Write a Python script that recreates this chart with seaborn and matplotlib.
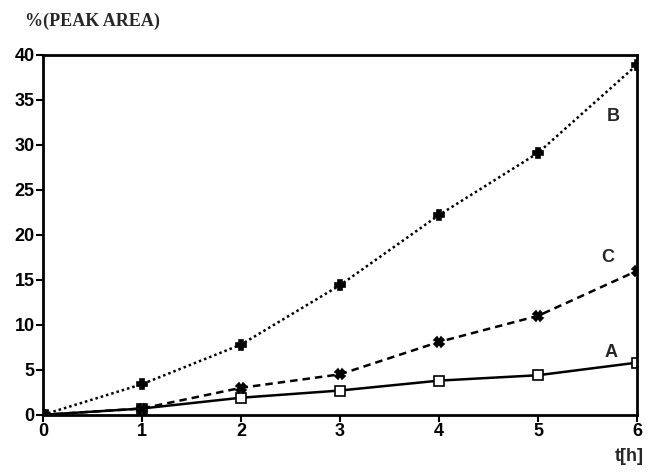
import matplotlib
matplotlib.use("Agg")
import matplotlib.pyplot as plt
import seaborn as sns
import pandas as pd

hours = [0, 1, 2, 3, 4, 5, 6]
series_a = [0.0, 0.7, 1.9, 2.7, 3.8, 4.4, 5.8]
series_b = [0.0, 3.4, 7.8, 14.4, 22.2, 29.1, 38.9]
series_c = [0.0, 0.7, 3.0, 4.5, 8.1, 11.0, 16.0]
y_ticks = [0, 5, 10, 15, 20, 25, 30, 35, 40]
x_ticks = [0, 1, 2, 3, 4, 5, 6]

sns.set_theme(style="ticks")
plt.rcParams["font.family"] = ["Liberation Sans", "DejaVu Sans"]

fig = plt.figure(figsize=(6.5, 4.73), dpi=100)
ax = fig.add_axes([0.066, 0.123, 0.914, 0.761])

frames = []
for name, vals in (("A", series_a), ("B", series_b), ("C", series_c)):
    frames.append(pd.DataFrame({"t": hours, "area": vals, "sample": name}))
df = pd.concat(frames, ignore_index=True)

styles = {
    "A": dict(ls="-", marker="s", mfc="white", ms=7, lw=1.8),
    "B": dict(ls=(0, (1, 1.2)), marker="P", mfc="black", ms=7, lw=1.8),
    "C": dict(ls=(0, (3, 2)), marker="X", mfc="black", ms=7, lw=1.8),
}
for name, st in styles.items():
    sub = df[df["sample"] == name]
    sns.lineplot(data=sub, x="t", y="area", ax=ax, color="black",
                 linestyle=st["ls"], linewidth=st["lw"], marker=st["marker"],
                 markersize=st["ms"], markerfacecolor=st["mfc"],
                 markeredgecolor="black", markeredgewidth=1.2)

ax.set_xlim(0, 6)
ax.set_ylim(0, 40)
ax.set_xticks(x_ticks)
ax.set_yticks(y_ticks)
ax.set_xlabel("")
ax.set_ylabel("")
for s in ax.spines.values():
    s.set_linewidth(2)
    s.set_color("black")
ax.tick_params(axis="both", direction="out", length=5, width=1.5,
               labelsize=13, pad=1, colors="black")
for lab in ax.get_xticklabels() + ax.get_yticklabels():
    lab.set_fontweight("heavy")

ax.text(5.76, 33.1, "B", fontsize=13, fontweight="bold", ha="center", va="center")
ax.text(5.7, 17.5, "C", fontsize=13, fontweight="bold", ha="center", va="center")
ax.text(5.74, 6.9, "A", fontsize=13, fontweight="bold", ha="center", va="center")

fig.text(0.038, 0.955, "%(PEAK AREA)", fontsize=13, fontweight="bold",
         family=["Liberation Serif", "DejaVu Serif"], ha="left", va="center")
fig.text(0.99, 0.035, "t[h]", fontsize=13, fontweight="bold", ha="right", va="center")

fig.savefig("out.png", dpi=100)
